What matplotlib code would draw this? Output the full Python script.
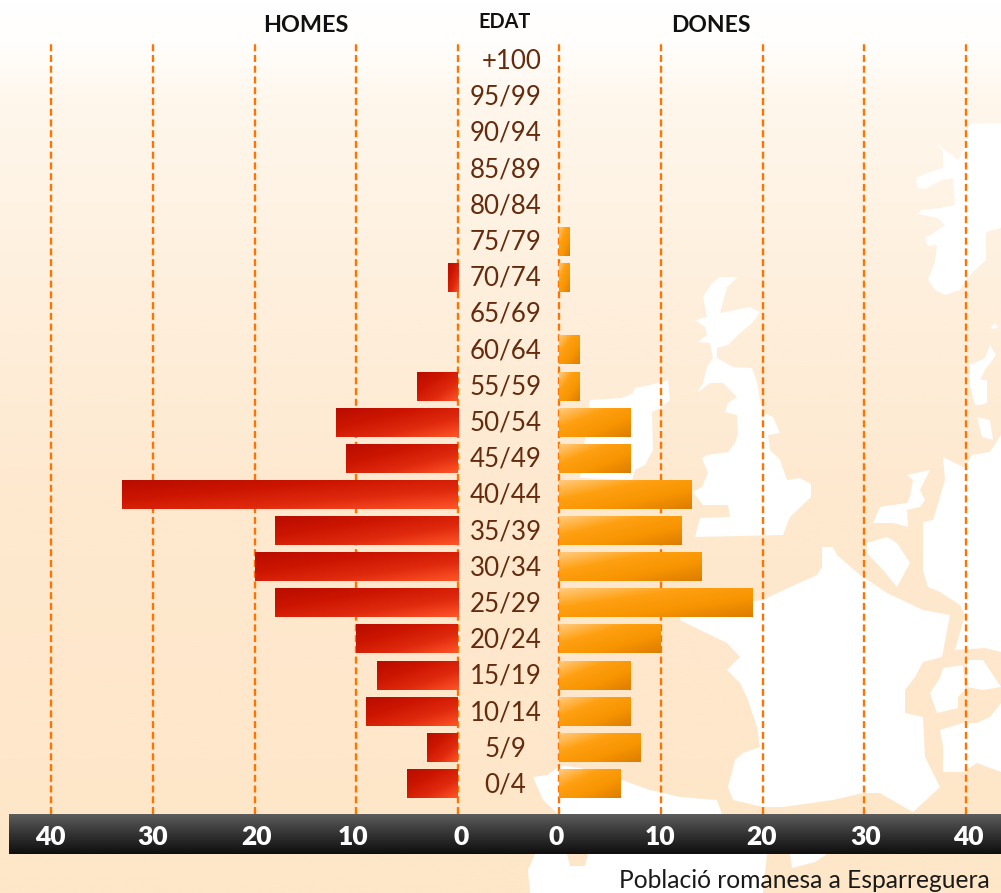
import numpy as np
import matplotlib
matplotlib.use("Agg")
import matplotlib.pyplot as plt
from matplotlib.colors import LinearSegmentedColormap
from matplotlib.patches import Polygon
from matplotlib.transforms import ScaledTranslation, blended_transform_factory

plt.rcParams['font.family'] = ['Lato', 'DejaVu Sans']

# ---- data (bottom to top) ----
age_groups = ["0/4", "5/9", "10/14", "15/19", "20/24", "25/29", "30/34", "35/39", "40/44",
              "45/49", "50/54", "55/59", "60/64", "65/69", "70/74", "75/79", "80/84",
              "85/89", "90/94", "95/99", "+100"]
homes = [5, 3, 9, 8, 10, 18, 20, 18, 33, 11, 12, 4, 0, 0, 1, 0, 0, 0, 0, 0, 0]
dones = [6, 8, 7, 7, 10, 19, 14, 12, 13, 7, 7, 2, 2, 0, 1, 1, 0, 0, 0, 0, 0]
axis_ticks = [0, 10, 20, 30, 40]

W, H = 1001, 893
fig = plt.figure(figsize=(W / 100, H / 100), dpi=100)

# ---- backdrop in pixel space ----
bg = fig.add_axes([0, 0, 1, 1])
bg.set_xlim(0, W)
bg.set_ylim(H, 0)
bg.axis('off')
stops = [(0, '#ffffff'), (40 / H, '#fffefc'), (100 / H, '#fff7ec'), (300 / H, '#feefdc'),
         (500 / H, '#fee9cf'), (1, '#fee6c8')]
bg.imshow(np.linspace(0, 1, 400)[:, None], cmap=LinearSegmentedColormap.from_list('bgc', stops),
          extent=(0, W, H, 0), aspect='auto', zorder=0)

map_shapes = [
    # Scandinavia
    [(1001,123),(972,124),(968,127),(967,143),(958,160),(945,150),(937,144),(943,152),(943,168),
     (930,172),(916,178),(918,188),(925,189),(942,180),(953,178),(955,205),(940,208),(921,210),
     (918,214),(938,218),(945,225),(935,232),(925,238),(928,246),(937,245),(935,262),(928,280),
     (935,290),(945,295),(960,290),(966,280),(975,270),(986,260),(986,232),(1001,228)],
    [(970,365),(985,358),(990,345),(996,355),(985,370),(978,385),(982,405),(975,405),(970,385)],
    [(990,328),(995,323),(998,327),(994,329)],
    # Great Britain
    [(720,277),(738,277),(727,287),(720,313),(750,307),(760,312),(752,323),(740,333),(728,345),
     (717,348),(717,358),(733,367),(752,368),(757,382),(760,400),(763,413),(773,417),(780,433),
     (768,435),(770,450),(780,460),(787,480),(800,478),(811,484),(811,497),(790,517),(783,535),
     (695,537),(700,518),(730,517),(728,505),(703,505),(693,492),(702,487),(708,473),(702,458),
     (707,455),(728,452),(735,443),(738,433),(737,415),(725,412),(728,403),(737,397),(723,383),
     (710,383),(697,393),(703,383),(707,367),(713,358),(710,343),(698,342),(707,335),(705,327),
     (695,320),(707,317),(703,297),(712,283)],
    # Ireland
    [(590,400),(622,398),(633,393),(635,388),(650,385),(668,380),(670,400),(660,408),(652,412),
     (653,450),(645,465),(635,470),(632,480),(580,478)],
    # France
    [(822,547),(833,547),(837,555),(860,575),(887,593),(923,610),(950,615),(942,657),(923,662),
     (915,677),(905,690),(905,713),(923,717),(925,757),(940,787),(923,803),(913,812),(897,803),
     (880,793),(863,793),(833,800),(783,807),(763,807),(733,800),(728,787),(735,760),(743,753),
     (760,747),(757,727),(748,700),(740,683),(727,670),(740,657),(727,643),(700,630),(680,620),
     (680,610),(763,600),(790,587),(817,575),(822,567)],
    # Low countries
    [(880,507),(907,503),(910,497),(913,480),(907,475),(930,470),(920,490),(925,500),(920,507),
     (907,510),(908,527),(893,523),(873,523)],
    [(867,543),(887,537),(897,543),(910,563),(897,587),(883,570),(867,553)],
    # Central Europe
    [(943,457),(965,468),(972,455),(990,452),(1001,435),(1001,652),(985,648),(955,650),(965,615),
     (960,605),(940,592),(928,587),(923,570),(923,522),(933,520),(937,507),(945,480)],
    [(977,380),(987,380),(987,403),(980,405)],
    [(977,417),(990,420),(993,440),(982,437)],
    # Alps and Italy
    [(943,668),(963,665),(965,690),(958,697),(958,708),(937,713),(930,693),(940,678)],
    [(967,660),(983,660),(1001,687),(983,690),(967,687)],
    [(940,730),(963,723),(977,723),(990,717),(1001,703),(1001,772),(977,763),(963,772),(943,772),(943,747)],
    # Iberia
    [(533,777),(548,775),(560,765),(580,768),(622,780),(650,790),(680,797),(717,800),(722,814),
     (558,814),(543,800)],
    [(530,893),(528,870),(535,854),(567,854),(570,866),(585,866),(588,854),(767,854),(763,893)],
    [(790,854),(827,854),(815,862),(792,868)],
]
for shape in map_shapes:
    bg.add_patch(Polygon(shape, closed=True, fc='white', ec='none', zorder=1))

# dark axis band
band = LinearSegmentedColormap.from_list('band', ['#5c5c5c', '#333333', '#0f0f0f'])
bg.imshow(np.linspace(0, 1, 60)[:, None], cmap=band, extent=(9, W, 854, 814), aspect='auto', zorder=2)
bg.set_xlim(0, W)
bg.set_ylim(H, 0)

# ---- the two bar panels ----
def panel(x0, x1):
    return fig.add_axes([x0 / W, 1 - 814 / H, (x1 - x0) / W, (814 - 42) / H], zorder=3, facecolor='none')

axL, axR = panel(51, 458), panel(559, 966)
red = LinearSegmentedColormap.from_list('red', ['#b80c00', '#cc1500', '#e02a0e', '#ff5528'])
orange = LinearSegmentedColormap.from_list('or', ['#ffcb80', '#ffa012', '#f79400', '#dc7d00'])
v, u = np.mgrid[0:1:60j, 0:1:120j]
diag = (u + v) / 2
ypos = np.arange(len(age_groups))
YLIM = (-30.5 / 36.125, 741.5 / 36.125)

for ax, vals, cmap, xlim in ((axL, homes, red, (40, 0)), (axR, dones, orange, (0, 40))):
    bars = ax.barh(ypos, vals, height=0.8, color='none', edgecolor='none', zorder=2)
    for b, val in zip(bars, vals):
        if val:
            im = ax.imshow(diag, cmap=cmap, aspect='auto', zorder=2, interpolation='bilinear',
                           extent=(val, 0, b.get_y(), b.get_y() + b.get_height()) if ax is axL
                           else (0, val, b.get_y(), b.get_y() + b.get_height()))
    ax.set_xlim(*xlim)
    ax.set_ylim(*YLIM)
    ax.set_yticks([])
    ax.set_xticks(axis_ticks)
    ax.set_axisbelow(True)
    ax.grid(axis='x', color='#ff7300', lw=1.7, linestyle=(0, (2.95, 1.6)))
    for g in ax.get_xgridlines():
        g.set_clip_on(False)
    ax.tick_params(axis='x', length=0, pad=8, labelsize=19, labelcolor='white')
    for s in ax.spines.values():
        s.set_visible(False)
    for lab in ax.get_xticklabels():
        lab.set_fontweight('heavy')

def nudge(ax, dx_by_tick):
    for tick, lab in zip(axis_ticks, ax.get_xticklabels()):
        d = dx_by_tick.get(tick, 0)
        lab.set_transform(lab.get_transform() + ScaledTranslation(d / 100, 0, fig.dpi_scale_trans))

nudge(axL, {0: 3, 10: -3, 20: 2, 40: -1})
nudge(axR, {0: -3, 10: -1, 20: -1, 30: 1, 40: 2})

# ---- age labels ----
label_tf = blended_transform_factory(bg.transData, axR.transData)
for i, (y, lab) in enumerate(zip(ypos, age_groups)):
    x = 511.5 if lab == '+100' else 505.5
    off = ScaledTranslation(0, -9 / 100, fig.dpi_scale_trans)
    axR.text(x, y * 1.002, lab, transform=label_tf + off, ha='center', va='baseline',
             fontsize=18.6, color='#642b0e', clip_on=False)

# ---- headers and source ----
for x, y, t, fs in ((306, 25, 'HOMES', 16.8), (505, 22, 'EDAT', 14.3), (711, 26, 'DONES', 16.5)):
    bg.text(x, y, t, ha='center', va='center', fontsize=fs, fontweight='bold', color='#111111')
bg.text(990, 880, 'Població romanesa a Esparreguera', ha='right', va='center',
        fontsize=17.75, color='#1a1a1a', zorder=5)

fig.savefig('out.png', dpi=100)
